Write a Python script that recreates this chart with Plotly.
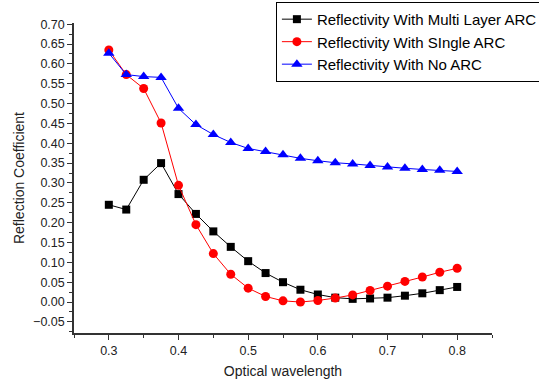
import plotly.graph_objects as go

wavelength = [0.3, 0.325, 0.35, 0.375, 0.4, 0.425, 0.45, 0.475, 0.5, 0.525, 0.55,
              0.575, 0.6, 0.625, 0.65, 0.675, 0.7, 0.725, 0.75, 0.775, 0.8]
multi_layer = [0.245, 0.233, 0.308, 0.350, 0.272, 0.222, 0.178, 0.139, 0.103, 0.073, 0.050,
               0.031, 0.019, 0.011, 0.008, 0.009, 0.011, 0.016, 0.022, 0.030, 0.038]
single_arc = [0.635, 0.573, 0.538, 0.451, 0.294, 0.195, 0.122, 0.070, 0.035, 0.014, 0.003,
              0.000, 0.004, 0.010, 0.018, 0.029, 0.040, 0.052, 0.063, 0.075, 0.085]
no_arc = [0.627, 0.573, 0.568, 0.566, 0.488, 0.447, 0.422, 0.402, 0.387, 0.379, 0.371,
          0.362, 0.356, 0.351, 0.348, 0.344, 0.340, 0.337, 0.334, 0.332, 0.329]

font = "Liberation Sans, Arial, sans-serif"

fig = go.Figure()
fig.add_trace(go.Scatter(x=wavelength, y=multi_layer, mode="lines+markers",
                         name="Reflectivity With Multi Layer ARC",
                         line=dict(color="black", width=1),
                         marker=dict(symbol="square", size=8, color="black")))
fig.add_trace(go.Scatter(x=wavelength, y=single_arc, mode="lines+markers",
                         name="Reflectivity With SIngle ARC",
                         line=dict(color="red", width=1),
                         marker=dict(symbol="circle", size=9, color="red")))
fig.add_trace(go.Scatter(x=wavelength, y=no_arc, mode="lines+markers",
                         name="Reflectivity With No ARC",
                         line=dict(color="blue", width=1),
                         marker=dict(symbol="triangle-up", size=10, color="blue")))

fig.update_layout(
    width=539, height=383,
    margin=dict(l=74, r=47, t=23, b=50, autoexpand=False),
    paper_bgcolor="white", plot_bgcolor="white",
    font=dict(family=font, size=12.5, color="#222"),
    legend=dict(x=0.483, y=1.068, xanchor="left", yanchor="top",
                bgcolor="white", bordercolor="black", borderwidth=1,
                font=dict(family=font, size=15, color="black"),
                tracegroupgap=0, itemwidth=30),
    xaxis=dict(range=[0.25, 0.85], tickmode="linear", tick0=0.3, dtick=0.1,
               tickformat=".1f", showgrid=False, zeroline=False,
               showline=True, linecolor="#333", linewidth=1.5,
               ticks="outside", ticklen=5, tickcolor="#333",
               minor=dict(ticks="outside", ticklen=3, dtick=0.05, tick0=0.25, tickcolor="#333", showgrid=False),
               title=dict(text="Optical wavelength", font=dict(family=font, size=14, color="#222"), standoff=9)),
    yaxis=dict(range=[-0.078, 0.703], tickmode="linear", tick0=0, dtick=0.05,
               tickformat=".2f", showgrid=False, zeroline=False,
               showline=True, linecolor="#333", linewidth=1.5,
               ticks="outside", ticklen=5, tickcolor="#333",
               minor=dict(ticks="outside", ticklen=3, dtick=0.025, tick0=0, tickcolor="#333", showgrid=False),
               title=dict(text="Reflection Coefficient", font=dict(family=font, size=14, color="#222"), standoff=5)),
)

fig.write_html("out.html", config={"displayModeBar": False},
               post_script="document.body.style.margin='0';")
